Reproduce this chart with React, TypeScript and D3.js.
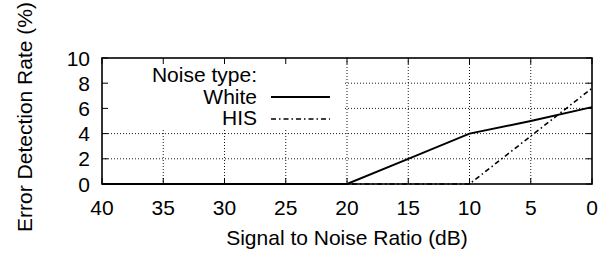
import React from "react";
import * as d3 from "d3";

// values
const snrValues = [40, 35, 30, 25, 20, 15, 10, 5, 0];
const whiteRates = [0, 0, 0, 0, 0, 2, 4, 5, 6.1];
const hisRates = [0, 0, 0, 0, 0, 0, 0, 3.8, 7.6];
const xTicks = [40, 35, 30, 25, 20, 15, 10, 5, 0];
const yTicks = [0, 2, 4, 6, 8, 10];
const legendTitle = "Noise type:";
const seriesNames = ["White", "HIS"];

const W = 613;
const H = 257;
const FONT = "'Liberation Sans', Arial, Helvetica, sans-serif";
const FS = 21;

const App = () => {
  const left = 102;
  const right = 592;
  const top = 58;
  const bottom = 184;

  const x = d3.scaleLinear().domain([40, 0]).range([left, right]);
  const y = d3.scaleLinear().domain([0, 10]).range([bottom, top]);

  const line = d3
    .line<number>()
    .x((d, i) => x(snrValues[i]))
    .y((d) => y(d));

  // legend box hides the grid behind it
  const keyBox = { x0: left + 1, x1: 344, y0: top + 1, y1: 128 };

  const tickLen = 6;

  return (
    <svg
      width={W}
      height={H}
      style={{ position: "absolute", left: 0, top: 0, background: "#fff" }}
      fontFamily={FONT}
      fontSize={FS}
    >
      <rect x={0} y={0} width={W} height={H} fill="#fff" />

      {/* grid */}
      <g stroke="#000" strokeWidth={0.9} strokeDasharray="1,2" fill="none">
        {yTicks
          .filter((t) => t > 0 && t < 10)
          .map((t) => (
            <line key={"gy" + t} x1={left} x2={right} y1={y(t)} y2={y(t)} />
          ))}
        {xTicks
          .filter((t) => t > 0 && t < 40)
          .map((t) => (
            <line key={"gx" + t} x1={x(t)} x2={x(t)} y1={top} y2={bottom} />
          ))}
      </g>

      <rect
        x={keyBox.x0}
        y={keyBox.y0}
        width={keyBox.x1 - keyBox.x0}
        height={keyBox.y1 - keyBox.y0}
        fill="#fff"
      />

      {/* ticks, mirrored on all sides */}
      <g stroke="#000" strokeWidth={1}>
        {xTicks.map((t) => (
          <g key={"tx" + t}>
            <line x1={x(t)} x2={x(t)} y1={bottom} y2={bottom - tickLen} />
            <line x1={x(t)} x2={x(t)} y1={top} y2={top + tickLen} />
          </g>
        ))}
        {yTicks.map((t) => (
          <g key={"ty" + t}>
            <line x1={left} x2={left + tickLen} y1={y(t)} y2={y(t)} />
            <line x1={right} x2={right - tickLen} y1={y(t)} y2={y(t)} />
          </g>
        ))}
      </g>

      {/* data */}
      <path d={line(whiteRates) || ""} fill="none" stroke="#000" strokeWidth={2} />
      <path
        d={line(hisRates) || ""}
        fill="none"
        stroke="#000"
        strokeWidth={1.6}
        strokeDasharray="5,3,1.5,3"
      />

      {/* border */}
      <rect
        x={left}
        y={top}
        width={right - left}
        height={bottom - top}
        fill="none"
        stroke="#000"
        strokeWidth={1.6}
      />

      {/* tick labels */}
      {yTicks.map((t) => (
        <text key={"ly" + t} x={90} y={y(t)} dy="0.36em" textAnchor="end">
          {t}
        </text>
      ))}
      {xTicks.map((t) => (
        <text key={"lx" + t} x={x(t)} y={215} textAnchor="middle">
          {t}
        </text>
      ))}

      {/* axis titles */}
      <text x={(left + right) / 2} y={245} textAnchor="middle">
        Signal to Noise Ratio (dB)
      </text>
      <text transform="translate(32,117) rotate(-90)" textAnchor="middle">
        Error Detection Rate (%)
      </text>

      {/* legend */}
      <text x={257} y={82} textAnchor="end">
        {legendTitle}
      </text>
      <text x={257} y={104} textAnchor="end">
        {seriesNames[0]}
      </text>
      <line x1={271} x2={330} y1={97} y2={97} stroke="#000" strokeWidth={2} />
      <text x={257} y={125} textAnchor="end">
        {seriesNames[1]}
      </text>
      <line
        x1={271}
        x2={330}
        y1={119}
        y2={119}
        stroke="#000"
        strokeWidth={1.6}
        strokeDasharray="5,3,1.5,3"
      />
    </svg>
  );
};

export default App;
